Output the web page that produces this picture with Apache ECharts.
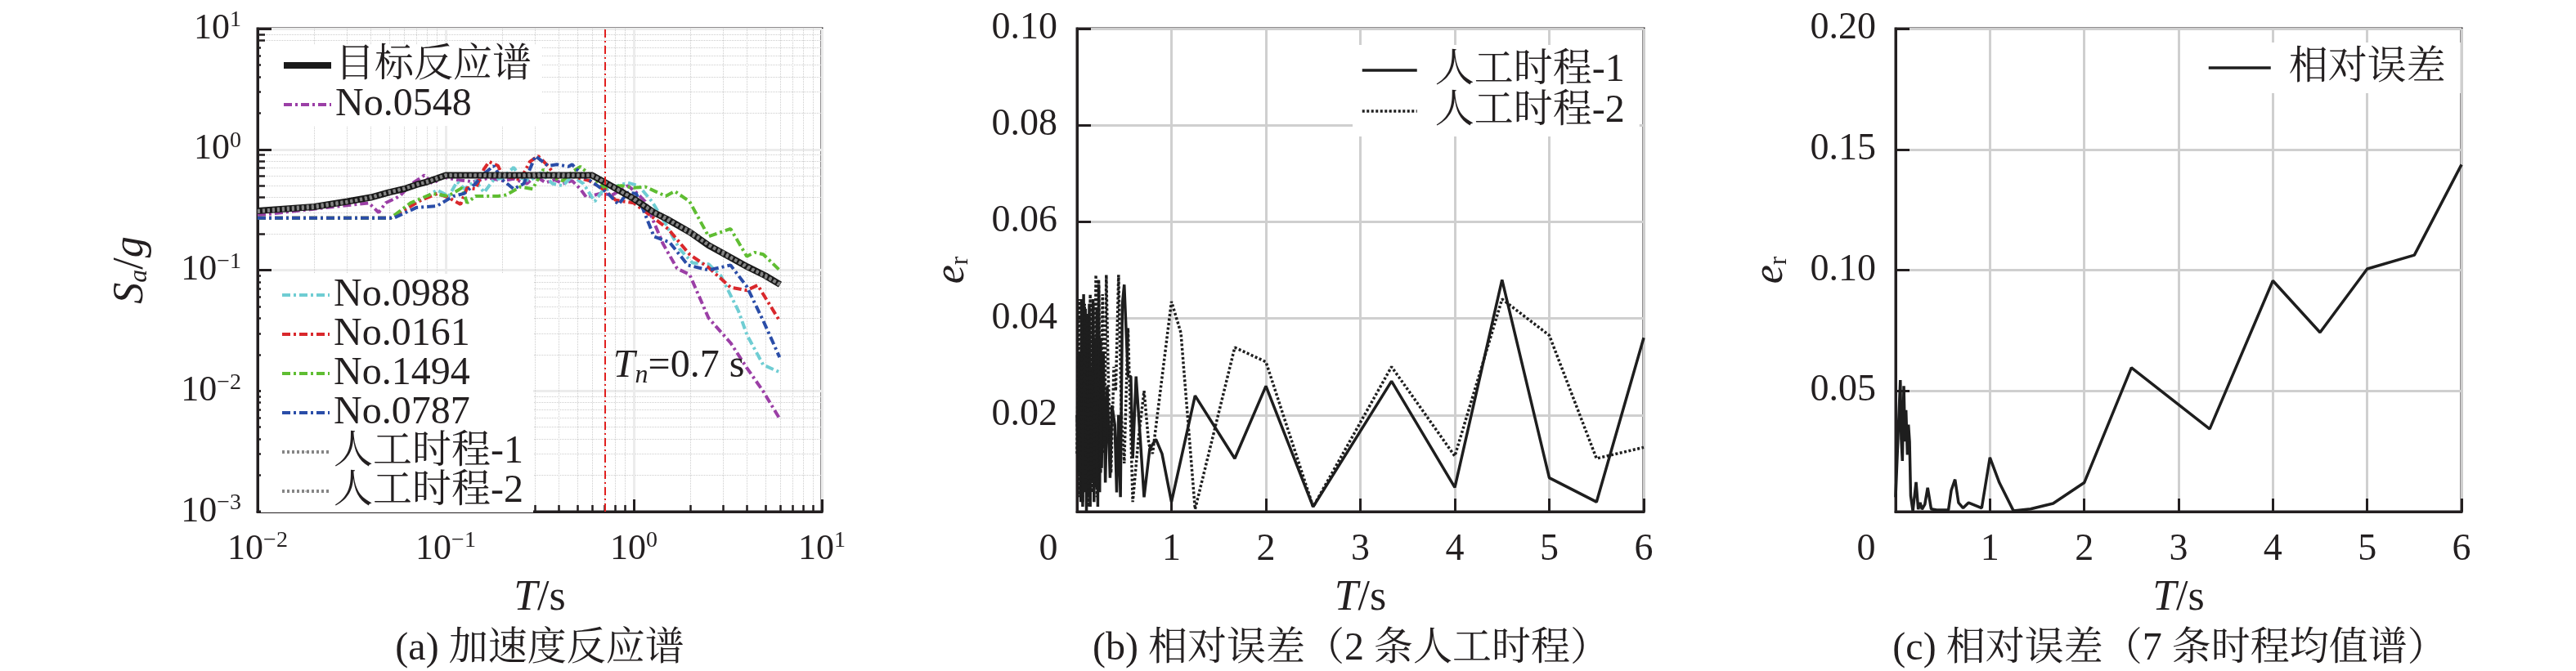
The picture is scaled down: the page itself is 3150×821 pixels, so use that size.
<!DOCTYPE html>
<html><head><meta charset="utf-8">
<script src="https://cdn.jsdelivr.net/npm/echarts@6/dist/echarts.min.js"></script>
<style>html,body{margin:0;padding:0;background:#fff}#c{width:3150px;height:821px}</style>
</head><body><div id="c"></div>
<script>
// ---------- Panel (a): acceleration response spectra [T (s), Sa/g] ----------
const target = [[0.01,0.31],[0.02,0.335],[0.03,0.37],[0.04,0.40],[0.05,0.44],[0.06,0.47],[0.07,0.51],[0.08,0.54],[0.09,0.575],[0.1,0.61],[0.6,0.61],[0.7,0.535],[0.8,0.475],[1.0,0.39],[1.28,0.30],[1.5,0.265],[2.0,0.205],[2.5,0.16],[3.0,0.137],[4.0,0.107],[5.0,0.09],[6.0,0.076]];
const art1 = [[0.01,0.305],[0.02,0.33],[0.03,0.365],[0.04,0.405],[0.05,0.435],[0.06,0.475],[0.07,0.505],[0.08,0.545],[0.09,0.57],[0.1,0.615],[0.2,0.60],[0.3,0.62],[0.4,0.60],[0.6,0.615],[0.7,0.53],[0.8,0.48],[1.0,0.385],[1.28,0.305],[1.5,0.26],[2.0,0.21],[2.5,0.16],[3.0,0.14],[4.0,0.105],[5.0,0.091],[6.0,0.075]];
const art2 = [[0.01,0.31],[0.02,0.34],[0.03,0.37],[0.04,0.395],[0.05,0.445],[0.06,0.47],[0.07,0.515],[0.08,0.535],[0.09,0.58],[0.1,0.605],[0.2,0.62],[0.3,0.60],[0.4,0.62],[0.6,0.605],[0.7,0.54],[0.8,0.47],[1.0,0.395],[1.28,0.295],[1.5,0.27],[2.0,0.20],[2.5,0.163],[3.0,0.135],[4.0,0.108],[5.0,0.088],[6.0,0.077]];
const rec0548 = [[0.01,0.285],[0.039,0.36],[0.044,0.30],[0.048,0.36],[0.057,0.41],[0.065,0.51],[0.077,0.61],[0.085,0.52],[0.097,0.59],[0.114,0.56],[0.14,0.54],[0.17,0.58],[0.2,0.55],[0.23,0.57],[0.27,0.52],[0.3,0.60],[0.34,0.53],[0.38,0.56],[0.42,0.52],[0.47,0.55],[0.52,0.47],[0.56,0.40],[0.66,0.43],[0.77,0.42],[0.93,0.50],[1.03,0.44],[1.15,0.37],[1.43,0.165],[1.7,0.103],[1.98,0.092],[2.5,0.040],[3.27,0.025],[3.99,0.0155],[4.88,0.0099],[5.96,0.0059]];
const rec0988 = [[0.01,0.27],[0.051,0.27],[0.06,0.32],[0.074,0.38],[0.09,0.46],[0.104,0.41],[0.115,0.54],[0.126,0.47],[0.144,0.55],[0.16,0.44],[0.18,0.56],[0.2,0.58],[0.23,0.71],[0.25,0.58],[0.28,0.55],[0.32,0.64],[0.37,0.52],[0.42,0.50],[0.47,0.60],[0.54,0.52],[0.62,0.37],[0.68,0.45],[0.76,0.48],[0.93,0.53],[1.06,0.50],[1.25,0.37],[1.48,0.24],[1.75,0.15],[2.05,0.115],[2.5,0.112],[2.9,0.09],[3.6,0.046],[4.0,0.029],[4.88,0.0164],[5.96,0.0143]];
const rec0161 = [[0.01,0.27],[0.051,0.27],[0.074,0.38],[0.09,0.43],[0.103,0.40],[0.12,0.35],[0.13,0.48],[0.144,0.47],[0.16,0.69],[0.17,0.79],[0.19,0.73],[0.2,0.61],[0.25,0.56],[0.28,0.79],[0.31,0.88],[0.35,0.73],[0.39,0.58],[0.43,0.62],[0.47,0.60],[0.58,0.55],[0.7,0.46],[0.8,0.38],[1.0,0.36],[1.2,0.29],[1.52,0.22],[1.98,0.135],[2.5,0.105],[3.27,0.072],[3.99,0.068],[4.56,0.075],[5.96,0.038]];
const rec1494 = [[0.01,0.27],[0.051,0.27],[0.065,0.36],[0.085,0.43],[0.103,0.41],[0.122,0.48],[0.13,0.36],[0.144,0.41],[0.19,0.41],[0.21,0.42],[0.25,0.49],[0.29,0.47],[0.33,0.68],[0.37,0.58],[0.42,0.55],[0.47,0.65],[0.52,0.72],[0.58,0.62],[0.7,0.48],[0.86,0.50],[1.0,0.48],[1.15,0.49],[1.48,0.41],[1.65,0.45],[1.98,0.37],[2.5,0.19],[3.27,0.22],[3.99,0.13],[4.4,0.14],[4.88,0.135],[5.96,0.10]];
const rec0787 = [[0.01,0.27],[0.053,0.27],[0.07,0.33],[0.09,0.34],[0.11,0.41],[0.125,0.43],[0.144,0.52],[0.16,0.63],[0.18,0.73],[0.2,0.56],[0.23,0.47],[0.26,0.52],[0.3,0.88],[0.35,0.73],[0.39,0.75],[0.45,0.72],[0.47,0.75],[0.54,0.60],[0.64,0.50],[0.72,0.44],[0.83,0.35],[0.93,0.44],[1.03,0.43],[1.12,0.32],[1.28,0.19],[1.55,0.17],[1.94,0.11],[2.5,0.10],[3.27,0.11],[3.99,0.073],[4.88,0.038],[5.96,0.019]];
const Tn = 0.7;
const TnLabelSa = 0.016;

// ---------- Panel (b): relative error of the two artificial records [T, e_r] ----------
const err1 = [[0,0.020],[0.02,0.008],[0.03,0.033],[0.04,0.002],[0.05,0.044],[0.06,0.001],[0.07,0.045],[0.08,0.004],[0.09,0.042],[0.10,0.000],[0.11,0.040],[0.12,0.003],[0.13,0.043],[0.14,0.001],[0.15,0.030],[0.16,0.006],[0.17,0.044],[0.18,0.002],[0.19,0.036],[0.20,0.005],[0.21,0.042],[0.22,0.001],[0.23,0.047],[0.24,0.004],[0.25,0.036],[0.26,0.009],[0.28,0.033],[0.30,0.006],[0.32,0.026],[0.35,0.007],[0.37,0.022],[0.40,0.018],[0.42,0.004],[0.44,0.020],[0.46,0.003],[0.48,0.043],[0.50,0.047],[0.54,0.028],[0.57,0.028],[0.59,0.011],[0.625,0.028],[0.67,0.015],[0.71,0.003],[0.77,0.013],[0.835,0.015],[0.9,0.012],[1.0,0.002],[1.25,0.024],[1.67,0.011],[2.0,0.026],[2.5,0.001],[3.33,0.027],[4.0,0.005],[4.5,0.048],[5.0,0.007],[5.5,0.002],[6.0,0.036]];
const err2 = [[0,0.012],[0.02,0.044],[0.03,0.003],[0.05,0.040],[0.06,0.002],[0.08,0.043],[0.09,0.005],[0.11,0.041],[0.12,0.001],[0.14,0.045],[0.15,0.004],[0.17,0.043],[0.18,0.006],[0.20,0.049],[0.21,0.003],[0.23,0.048],[0.25,0.008],[0.27,0.045],[0.29,0.012],[0.31,0.049],[0.33,0.029],[0.36,0.008],[0.39,0.030],[0.41,0.025],[0.44,0.049],[0.47,0.020],[0.50,0.010],[0.54,0.038],[0.59,0.002],[0.65,0.015],[0.71,0.025],[0.76,0.014],[0.80,0.012],[1.0,0.0435],[1.1,0.037],[1.25,0.0005],[1.67,0.034],[2.0,0.031],[2.5,0.001],[3.33,0.030],[4.0,0.0115],[4.5,0.044],[5.0,0.0365],[5.5,0.011],[6.0,0.0133]];

// ---------- Panel (c): relative error of the 7-record mean spectrum [T, e_r] ----------
const errMean = [[0.0,0.006],[0.015,0.0065],[0.05,0.0545],[0.06,0.030],[0.072,0.021],[0.087,0.052],[0.1,0.029],[0.11,0.042],[0.125,0.0235],[0.136,0.036],[0.148,0.029],[0.16,0.0065],[0.183,0.0003],[0.217,0.0122],[0.24,0.001],[0.26,0.0037],[0.28,0.001],[0.31,0.003],[0.34,0.0099],[0.377,0.0011],[0.435,0.0007],[0.56,0.0007],[0.59,0.0088],[0.63,0.0133],[0.667,0.0037],[0.716,0.0015],[0.774,0.0037],[0.913,0.0015],[1.0,0.0224],[1.1,0.012],[1.25,0.0003],[1.43,0.0011],[1.67,0.0034],[2.0,0.012],[2.5,0.0596],[3.33,0.0342],[4.0,0.0956],[4.5,0.0742],[5.0,0.1005],[5.5,0.1062],[6.0,0.1437]];

const FONT = '"Liberation Serif", "Times New Roman", "Noto Serif CJK SC", "Noto Sans CJK SC", serif';
const INK = '#231f20';
const C = {purple:'#9b3fa6', cyan:'#6fcdd3', red:'#d9282c', green:'#5fbd32', blue:'#2a4da8'};
const DASHDOT = [10,4,3,4];

function expLabel(v){
  const e = Math.round(Math.log10(v));
  return '{b|10}{e|' + (e < 0 ? '\u2212' + (-e) : e) + '}';
}
const expRich = {
  b:{fontFamily:FONT, fontSize:44, color:INK},
  e:{fontFamily:FONT, fontSize:28, color:INK, padding:[0,0,20,0]}
};
const nameRich = {
  i:{fontFamily:FONT, fontSize:52, fontStyle:'italic', color:INK},
  r:{fontFamily:FONT, fontSize:52, color:INK},
  s:{fontFamily:FONT, fontSize:32, fontStyle:'italic', color:INK, padding:[22,0,0,0]},
  su:{fontFamily:FONT, fontSize:32, color:INK, padding:[22,0,0,0]}
};
const tickLine = {lineStyle:{color:INK, width:3}};
const axisLine = {show:true, lineStyle:{color:INK, width:3}};

function recSeries(name, data, color){
  return {name, type:'line', xAxisIndex:0, yAxisIndex:0, data, showSymbol:false, symbol:'none', z:2,
    lineStyle:{color, width:4, type:DASHDOT}, itemStyle:{color}};
}
const linX = (gi, zeroPad) => ({gridIndex:gi, type:'value', min:0, max:6, interval:1,
  axisLine, axisTick:{inside:true, length:16, ...tickLine},
  axisLabel:{fontFamily:FONT, fontSize:46, color:INK, margin:24,
    formatter:v => v === 0 ? '{z|0}' : String(v),
    rich:{z:{fontFamily:FONT, fontSize:46, color:INK, padding:[0,zeroPad,0,0]}}},
  splitLine:{show:true, lineStyle:{color:'#cfcfcf', width:3}},
  name:'{i|T}{r|/s}', nameLocation:'middle', nameGap:80, nameTextStyle:{rich:nameRich}});
const linY = (gi, max, interval) => ({gridIndex:gi, type:'value', min:0, max, interval,
  axisLine, axisTick:{inside:true, length:17, ...tickLine},
  axisLabel:{fontFamily:FONT, fontSize:46, color:INK, margin:24,
    formatter:v => v === 0 ? '' : v.toFixed(2)},
  splitLine:{show:true, lineStyle:{color:'#cfcfcf', width:3}},
  name:'{i|e}{su|r}', nameLocation:'middle', nameRotate:90, nameGap:126, nameTextStyle:{rich:nameRich}});

const legendText = {fontFamily:FONT, fontSize:48, color:INK, lineHeight:46};
const legendLine = {width:'inherit', type:'inherit', color:'inherit'};

const option = {
  backgroundColor:'#fff',
  animation:false,
  grid:[
    {left:315, top:35, width:690, height:591, show:true, borderColor:INK, borderWidth:3, backgroundColor:'transparent'},
    {left:1317, top:35, width:693, height:591, show:true, borderColor:INK, borderWidth:3, backgroundColor:'transparent'},
    {left:2318, top:35, width:692, height:591, show:true, borderColor:INK, borderWidth:3, backgroundColor:'transparent'}
  ],
  xAxis:[
    {gridIndex:0, type:'log', logBase:10, min:0.01, max:10,
      axisLine, axisTick:{inside:true, length:15, ...tickLine},
      minorTick:{show:true, splitNumber:9, length:8, lineStyle:{color:INK, width:2.5}},
      axisLabel:{formatter:expLabel, rich:expRich, margin:22},
      splitLine:{show:true, lineStyle:{color:'#ececec', width:3}},
      minorSplitLine:{show:true, lineStyle:{color:'#cdcdcd', width:1, type:'dotted'}},
      name:'{i|T}{r|/s}', nameLocation:'middle', nameGap:80, nameTextStyle:{rich:nameRich}},
    linX(1, 70),
    linX(2, 72)
  ],
  yAxis:[
    {gridIndex:0, type:'log', logBase:10, min:0.001, max:10,
      axisLine, axisTick:{inside:true, length:17, ...tickLine},
      minorTick:{show:true, splitNumber:9, length:9, lineStyle:{color:INK, width:2.5}},
      axisLabel:{formatter:expLabel, rich:expRich, margin:20},
      splitLine:{show:true, lineStyle:{color:'#ececec', width:3}},
      minorSplitLine:{show:true, lineStyle:{color:'#cdcdcd', width:1, type:'dotted'}},
      name:'{i|S}{s|a}{r|/}{i|g}', nameLocation:'middle', nameRotate:90, nameGap:128, nameTextStyle:{rich:nameRich}},
    linY(1, 0.1, 0.02),
    linY(2, 0.2, 0.05)
  ],
  legend:[
    {data:['目标反应谱','No.0548'], orient:'vertical', left:319, top:54, itemGap:0, lineStyle:legendLine,
      itemWidth:58, itemHeight:2, padding:[2,12,2,24], backgroundColor:'#fff', textStyle:legendText},
    {data:['No.0988','No.0161','No.1494','No.0787','人工时程-1','人工时程-2'], orient:'vertical', left:319, top:335, itemGap:0, lineStyle:legendLine,
      itemWidth:58, itemHeight:2, padding:[2,12,2,24], backgroundColor:'#fff', textStyle:legendText},
    {data:['人工时程-1\u200b','人工时程-2\u200b'], orient:'vertical', left:1654, top:55, itemGap:0, lineStyle:legendLine,
      itemWidth:67, itemHeight:2, padding:[6,18,6,10], backgroundColor:'#fff',
      textStyle:{...legendText, lineHeight:50, padding:[0,0,0,17]}},
    {data:['相对误差'], orient:'vertical', left:2689, top:52, itemGap:0, lineStyle:legendLine,
      itemWidth:76, itemHeight:2, padding:[6,18,6,10], backgroundColor:'#fff',
      textStyle:{...legendText, lineHeight:50, padding:[0,0,0,17]}}
  ],
  series:[
    recSeries('No.0548', rec0548, C.purple),
    recSeries('No.0988', rec0988, C.cyan),
    recSeries('No.0161', rec0161, C.red),
    recSeries('No.1494', rec1494, C.green),
    recSeries('No.0787', rec0787, C.blue),
    {name:'目标反应谱', type:'line', xAxisIndex:0, yAxisIndex:0, data:target, showSymbol:false, symbol:'none', z:3,
      lineStyle:{color:'#1a1a1a', width:8}, itemStyle:{color:'#1a1a1a'},
      markLine:{silent:true, symbol:'none', z:5, data:[{xAxis:Tn}], label:{show:false},
        lineStyle:{color:'#e0201f', width:2, type:[10,4,2,4]}},
      markPoint:{silent:true, symbol:'circle', symbolSize:1, itemStyle:{color:'rgba(0,0,0,0)'},
        data:[{coord:[Tn, TnLabelSa]}],
        label:{show:true, position:'right', distance:10, formatter:'{t|T}{n|n}{r|=0.7 s}',
          rich:{t:{fontFamily:FONT, fontSize:48, fontStyle:'italic', color:INK},
                n:{fontFamily:FONT, fontSize:32, fontStyle:'italic', color:INK, padding:[24,0,0,0]},
                r:{fontFamily:FONT, fontSize:48, color:INK}}}}},
    {name:'人工时程-1', type:'line', xAxisIndex:0, yAxisIndex:0, data:art1, showSymbol:false, symbol:'none', z:4,
      lineStyle:{color:'#858585', width:4, type:[3,3]}, itemStyle:{color:'#858585'}},
    {name:'人工时程-2', type:'line', xAxisIndex:0, yAxisIndex:0, data:art2, showSymbol:false, symbol:'none', z:4,
      lineStyle:{color:'#858585', width:4, type:[3,3]}, itemStyle:{color:'#858585'}},
    {name:'人工时程-1\u200b', type:'line', xAxisIndex:1, yAxisIndex:1, data:err1, showSymbol:false, symbol:'none',
      lineStyle:{color:'#1e1e1e', width:3.5}, itemStyle:{color:'#1e1e1e'}},
    {name:'人工时程-2\u200b', type:'line', xAxisIndex:1, yAxisIndex:1, data:err2, showSymbol:false, symbol:'none',
      lineStyle:{color:'#1e1e1e', width:3.5, type:[3,2.5]}, itemStyle:{color:'#1e1e1e'}},
    {name:'相对误差', type:'line', xAxisIndex:2, yAxisIndex:2, data:errMean, showSymbol:false, symbol:'none',
      lineStyle:{color:'#1e1e1e', width:3.5}, itemStyle:{color:'#1e1e1e'}}
  ],
  graphic:[
    {type:'text', x:660, y:794, style:{text:'(a) 加速度反应谱', font:'48px ' + FONT, fill:INK, textAlign:'center', textVerticalAlign:'middle'}},
    {type:'text', x:1652, y:794, style:{text:'(b) 相对误差（2 条人工时程）', font:'48px ' + FONT, fill:INK, textAlign:'center', textVerticalAlign:'middle'}},
    {type:'text', x:2653, y:794, style:{text:'(c) 相对误差（7 条时程均值谱）', font:'48px ' + FONT, fill:INK, textAlign:'center', textVerticalAlign:'middle'}}
  ]
};
const chart = echarts.init(document.getElementById('c'), null, {renderer:'canvas'});
chart.setOption(option);
</script>
</body></html>
